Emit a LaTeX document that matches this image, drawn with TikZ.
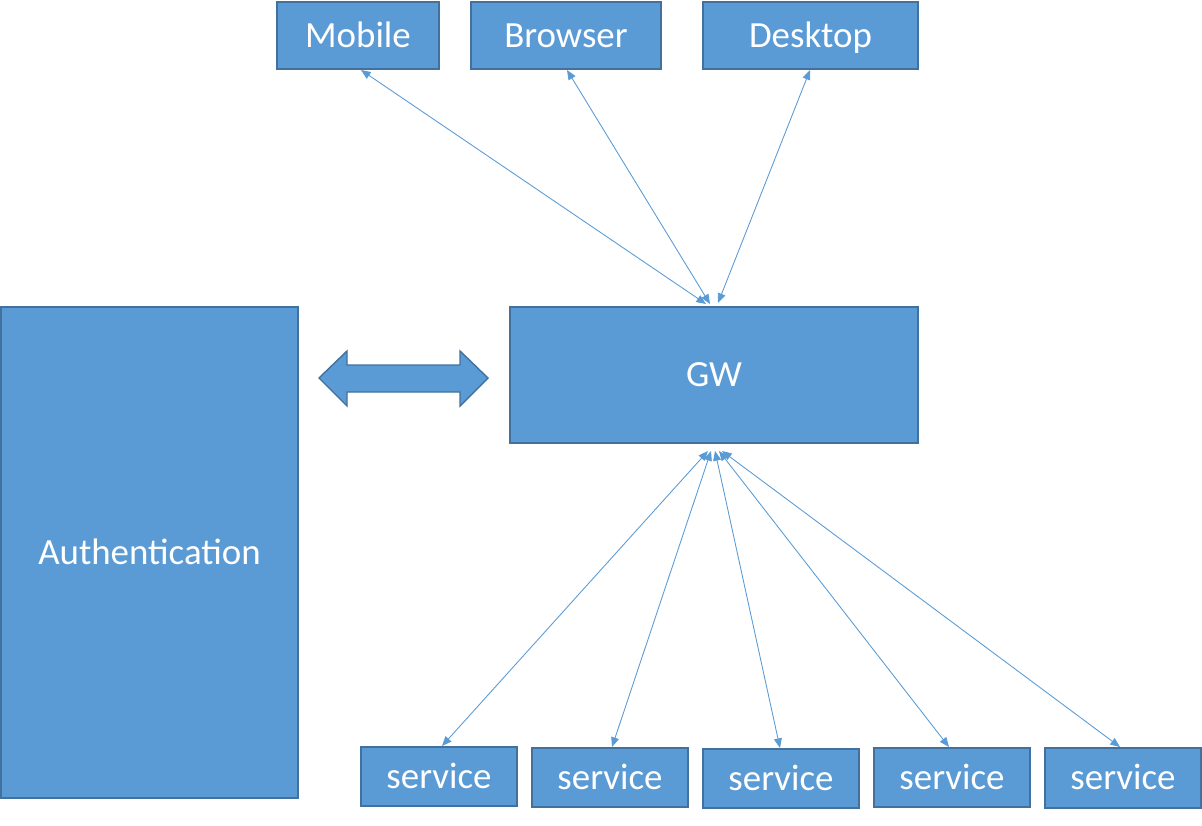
\documentclass[tikz,border=0pt]{standalone}
\usepackage{fontspec}
\setmainfont{Carlito}
\usetikzlibrary{arrows.meta}
\definecolor{boxfill}{HTML}{5B9BD5}
\definecolor{boxline}{HTML}{41719C}
\begin{document}
\begin{tikzpicture}[x=0.02cm,y=-0.02cm,
  blockbox/.style={draw=boxline,fill=boxfill,line width=0.8pt,text=white,font=\fontsize{21}{24}\selectfont,inner sep=0pt,text height=13.5pt,text depth=0pt},
  conn/.style={draw=boxfill,line width=0.5pt,{Triangle[length=5.5pt,width=4.5pt]}-{Triangle[length=5.5pt,width=4.5pt]}}]
\useasboundingbox (0,0) rectangle (1202,825);
\newcommand{\bx}[6]{\node[blockbox,minimum width={(#4-#3)*0.02cm},minimum height={(#6-#5)*0.02cm}] (#1) at ({(#3+#4)/2},{(#5+#6)/2}) {#2};}
\bx{mobile}{Mobile}{277}{439}{2}{69}
\bx{browser}{Browser}{471}{661}{2}{69}
\bx{desktop}{Desktop}{703}{918}{2}{69}
\bx{gw}{GW}{510}{918}{307}{443}
\bx{auth}{Authentication}{1}{298}{307}{798}
\bx{s1}{service}{361}{517}{747}{806}
\bx{s2}{service}{532}{688}{748}{807}
\bx{s3}{service}{703}{859}{749}{808}
\bx{s4}{service}{874}{1030}{748}{807}
\bx{s5}{service}{1045}{1201}{748}{808}
% double arrow
\draw[draw=boxline,fill=boxfill,line width=0.8pt] (319,378) -- (347,351) -- (347,365) -- (460,365) -- (460,351) -- (488,378) -- (460,406) -- (460,392) -- (347,392) -- (347,406) -- cycle;
% connector end points on GW
\coordinate (gt1) at (706,304);
\coordinate (gt2) at (710,304);
\coordinate (gt3) at (718,303);
\coordinate (gb1) at (708,451);
\coordinate (gb2) at (711,451);
\coordinate (gb3) at (715,451);
\coordinate (gb4) at (719,451);
\coordinate (gb5) at (722,451);
\coordinate (mT) at (361,70);
\coordinate (bT) at (567,70);
\coordinate (dT) at (810,70);
\coordinate (t1) at (442,746);
\coordinate (t2) at (612,747);
\coordinate (t3) at (780,748);
\coordinate (t4) at (949,747);
\coordinate (t5) at (1120,747);
\draw[conn] (gt1) -- (mT);
\draw[conn] (gt2) -- (bT);
\draw[conn] (gt3) -- (dT);
\draw[conn] (gb1) -- (t1);
\draw[conn] (gb2) -- (t2);
\draw[conn] (gb3) -- (t3);
\draw[conn] (gb4) -- (t4);
\draw[conn] (gb5) -- (t5);
\end{tikzpicture}
\end{document}
